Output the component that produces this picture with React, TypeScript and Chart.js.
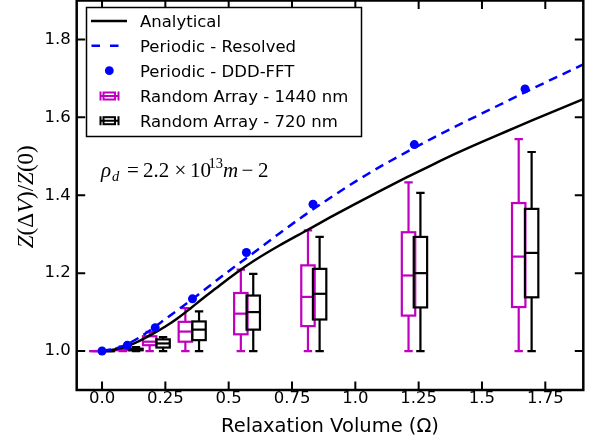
import React, { useEffect, useRef } from "react";
import { Chart, registerables } from "chart.js";
Chart.register(...registerables);

// ---- tick labels ----
const xTickValues = [0, 0.25, 0.5, 0.75, 1.0, 1.25, 1.5, 1.75];
const xTickLabels = ["0.0", "0.25", "0.5", "0.75", "1.0", "1.25", "1.5", "1.75"];
const yTickValues = [1.0, 1.2, 1.4, 1.6, 1.8];
const yTickLabels = ["1.0", "1.2", "1.4", "1.6", "1.8"];

// ---- Analytical (solid black) ----
const analyticalX = [0, 0.05, 0.1, 0.15, 0.2, 0.25, 0.3, 0.35, 0.4, 0.45, 0.5, 0.55, 0.6, 0.7, 0.8, 0.9, 1.0, 1.1, 1.2, 1.3, 1.4, 1.5, 1.6, 1.7, 1.8, 1.9];
const analyticalY = [1.0, 1.004, 1.013, 1.027, 1.044, 1.063, 1.085, 1.11, 1.136, 1.161, 1.186, 1.21, 1.232, 1.271, 1.307, 1.343, 1.378, 1.412, 1.445, 1.477, 1.508, 1.537, 1.565, 1.593, 1.62, 1.647];

// ---- Periodic - Resolved (dashed blue) ----
const resolvedX = [0, 0.05, 0.1, 0.15, 0.2, 0.25, 0.3, 0.35, 0.4, 0.5, 0.6, 0.7, 0.8, 0.9, 1.0, 1.1, 1.2, 1.3, 1.4, 1.5, 1.6, 1.7, 1.8, 1.9];
const resolvedY = [1.0, 1.006, 1.018, 1.036, 1.058, 1.082, 1.106, 1.13, 1.155, 1.205, 1.253, 1.302, 1.349, 1.393, 1.435, 1.474, 1.51, 1.545, 1.578, 1.61, 1.642, 1.674, 1.705, 1.736];

// ---- Periodic - DDD-FFT (blue dots) ----
const fftX = [0, 0.1, 0.21, 0.357, 0.57, 0.833, 1.233, 1.67];
const fftY = [1.0, 1.015, 1.06, 1.134, 1.253, 1.377, 1.53, 1.673];

// ---- Random Array - 1440 nm (magenta boxes) ----
const r1440Pos = [-0.024, 0.082, 0.188, 0.329, 0.548, 0.813, 1.21, 1.645];
const r1440Min = [1.0, 1.0, 1.0, 1.0, 1.0, 1.0, 1.0, 1.0];
const r1440Q1 = [1.0, 1.002, 1.015, 1.024, 1.043, 1.064, 1.091, 1.113];
const r1440Med = [1.0, 1.004, 1.024, 1.05, 1.096, 1.139, 1.194, 1.2425];
const r1440Q3 = [1.0, 1.007, 1.038, 1.075, 1.149, 1.22, 1.305, 1.38];
const r1440Max = [1.0, 1.012, 1.049, 1.11, 1.209, 1.31, 1.433, 1.544];

// ---- Random Array - 720 nm (black boxes) ----
const r720Pos = [0.025, 0.134, 0.241, 0.383, 0.597, 0.859, 1.257, 1.696];
const r720Min = [1.0, 1.0, 1.0, 1.0, 1.0, 1.0, 1.0, 1.0];
const r720Q1 = [1.0, 1.002, 1.009, 1.028, 1.055, 1.081, 1.112, 1.138];
const r720Med = [1.0, 1.004, 1.0195, 1.055, 1.1, 1.147, 1.2, 1.252];
const r720Q3 = [1.0, 1.006, 1.03, 1.076, 1.1425, 1.211, 1.293, 1.365];
const r720Max = [1.0, 1.01, 1.036, 1.102, 1.198, 1.293, 1.406, 1.511];

const legendLabels = ["Analytical", "Periodic - Resolved", "Periodic - DDD-FFT", "Random Array - 1440 nm", "Random Array - 720 nm"];

const MAGENTA = "#bf00bf";
const BLUE = "#0000ff";
const BLACK = "#000000";
const SANS = "'DejaVu Sans', sans-serif";
const SERIF = "'Liberation Serif', serif";

const pts = (xs: number[], ys: number[]) => xs.map((x, i) => ({ x, y: ys[i] }));

function drawBoxes(chart: any, pos: number[], mn: number[], q1: number[], md: number[], q3: number[], mx: number[], color: string) {
  const { ctx, scales } = chart;
  const xs = scales.x, ys = scales.y;
  const hw = 6.7, cap = 4.2;
  ctx.save();
  ctx.strokeStyle = color;
  ctx.lineWidth = 2.2;
  ctx.lineCap = "butt";
  pos.forEach((p: number, i: number) => {
    const cx = xs.getPixelForValue(p);
    const yMin = ys.getPixelForValue(mn[i]);
    const yQ1 = ys.getPixelForValue(q1[i]);
    const yMed = ys.getPixelForValue(md[i]);
    const yQ3 = ys.getPixelForValue(q3[i]);
    const yMax = ys.getPixelForValue(mx[i]);
    ctx.beginPath();
    ctx.moveTo(cx, yQ1); ctx.lineTo(cx, yMin);
    ctx.moveTo(cx, yQ3); ctx.lineTo(cx, yMax);
    ctx.moveTo(cx - cap, yMin); ctx.lineTo(cx + cap, yMin);
    ctx.moveTo(cx - cap, yMax); ctx.lineTo(cx + cap, yMax);
    ctx.stroke();
    ctx.strokeRect(cx - hw, yQ3, hw * 2, yQ1 - yQ3);
    ctx.beginPath();
    ctx.moveTo(cx - hw, yMed); ctx.lineTo(cx + hw, yMed);
    ctx.stroke();
  });
  ctx.restore();
}

const boxPlugin = {
  id: "boxes",
  beforeDatasetsDraw(chart: any) {
    drawBoxes(chart, r1440Pos, r1440Min, r1440Q1, r1440Med, r1440Q3, r1440Max, MAGENTA);
    drawBoxes(chart, r720Pos, r720Min, r720Q1, r720Med, r720Q3, r720Max, BLACK);
  },
};

function drawSegs(ctx: CanvasRenderingContext2D, segs: { t: string; f: string; dx: number; dy?: number }[], x0: number, y0: number) {
  segs.forEach((s) => {
    ctx.font = s.f;
    ctx.fillText(s.t, x0 + s.dx, y0 + (s.dy || 0));
  });
}

const framePlugin = {
  id: "frame",
  afterDraw(chart: any) {
    const { ctx, chartArea: a, scales } = chart;
    const xs = scales.x, ys = scales.y;
    ctx.save();
    ctx.strokeStyle = BLACK;
    ctx.lineWidth = 2.5;
    ctx.strokeRect(a.left, a.top, a.right - a.left, a.bottom - a.top);
    ctx.lineWidth = 2;
    const tl = 8.5;
    ctx.beginPath();
    xTickValues.forEach((v) => {
      const px = xs.getPixelForValue(v);
      ctx.moveTo(px, a.bottom); ctx.lineTo(px, a.bottom - tl);
      ctx.moveTo(px, a.top); ctx.lineTo(px, a.top + tl);
    });
    yTickValues.forEach((v) => {
      const py = ys.getPixelForValue(v);
      ctx.moveTo(a.left, py); ctx.lineTo(a.left + tl, py);
      ctx.moveTo(a.right, py); ctx.lineTo(a.right - tl, py);
    });
    ctx.stroke();

    // y-axis title (rotated, math style)
    ctx.fillStyle = BLACK;
    ctx.textBaseline = "alphabetic";
    ctx.textAlign = "left";
    const fs = 23;
    const it = `italic ${fs}px ${SERIF}`;
    const rm = `${fs}px ${SERIF}`;
    const yTitle = [
      { t: "Z", f: it }, { t: "(Δ", f: rm }, { t: "V", f: it }, { t: ")/", f: rm },
      { t: "Z", f: it }, { t: "(0)", f: rm },
    ];
    let total = 0;
    const widths = yTitle.map((s) => { ctx.font = s.f; const w = ctx.measureText(s.t).width; total += w; return w; });
    ctx.save();
    ctx.translate(32.5, (a.top + a.bottom) / 2 + 1.5);
    ctx.rotate(-Math.PI / 2);
    let xx = -total / 2;
    yTitle.forEach((s, i) => { ctx.font = s.f; ctx.fillText(s.t, xx, 0); xx += widths[i]; });
    ctx.restore();

    // annotation rho_d
    const ax = xs.getPixelForValue(0);
    const ay = ys.getPixelForValue(1.447);
    const af = 21;
    const ait = `italic ${af}px ${SERIF}`;
    const arm = `${af}px ${SERIF}`;
    const asm = `14.5px ${SERIF}`;
    const asmi = `italic 14.5px ${SERIF}`;
    drawSegs(ctx, [
      { t: "ρ", f: ait, dx: -1 },
      { t: "d", f: asmi, dx: 10, dy: 4 },
      { t: "=", f: arm, dx: 25 },
      { t: "2.2", f: arm, dx: 41 },
      { t: "×", f: arm, dx: 72.5 },
      { t: "10", f: arm, dx: 88 },
      { t: "13", f: asm, dx: 106.5, dy: -8.5 },
      { t: "m", f: ait, dx: 121 },
      { t: "−", f: arm, dx: 139.5 },
      { t: "2", f: arm, dx: 156 },
    ], ax, ay);

    // legend
    const L = 86, R = 362, T = 11, B = 141;
    ctx.fillStyle = "#ffffff";
    ctx.fillRect(L, T, R - L, B - T);
    ctx.strokeStyle = BLACK;
    ctx.lineWidth = 1.5;
    ctx.strokeRect(L + 0.5, T + 0.5, R - L - 1, B - T - 1);
    const rows = [25, 49.7, 74.7, 100, 124.7];
    ctx.font = `16.5px ${SANS}`;
    ctx.fillStyle = BLACK;
    legendLabels.forEach((lab, i) => ctx.fillText(lab, 140, rows[i] + 6));
    ctx.lineWidth = 2.5;
    ctx.strokeStyle = BLACK;
    ctx.beginPath(); ctx.moveTo(91, rows[0]); ctx.lineTo(127, rows[0]); ctx.stroke();
    ctx.strokeStyle = BLUE;
    ctx.setLineDash([8.5, 10]);
    ctx.beginPath(); ctx.moveTo(91.5, rows[1]); ctx.lineTo(127, rows[1]); ctx.stroke();
    ctx.setLineDash([]);
    ctx.fillStyle = BLUE;
    ctx.beginPath(); ctx.arc(109.3, rows[2], 4.4, 0, Math.PI * 2); ctx.fill();
    const icon = (cy: number, color: string) => {
      ctx.strokeStyle = color;
      ctx.lineWidth = 2;
      ctx.beginPath();
      ctx.moveTo(100.5, cy); ctx.lineTo(118.5, cy);
      ctx.moveTo(100.5, cy - 4.5); ctx.lineTo(100.5, cy + 4.5);
      ctx.moveTo(118.5, cy - 4.5); ctx.lineTo(118.5, cy + 4.5);
      ctx.stroke();
      ctx.strokeRect(103.5, cy - 3.5, 11.5, 7);
    };
    icon(rows[3], MAGENTA);
    icon(rows[4], BLACK);
    ctx.restore();
  },
};

export default function App() {
  const ref = useRef<HTMLCanvasElement>(null);
  useEffect(() => {
    const canvas = ref.current!;
    const chart = new Chart(canvas, {
      type: "scatter",
      data: {
        datasets: [
          {
            label: "Periodic - DDD-FFT",
            data: pts(fftX, fftY),
            showLine: false,
            pointRadius: 4.5,
            pointBackgroundColor: BLUE,
            pointBorderColor: BLUE,
            pointBorderWidth: 0,
          },
          {
            label: "Periodic - Resolved",
            data: pts(resolvedX, resolvedY),
            showLine: true,
            pointRadius: 0,
            borderColor: BLUE,
            borderWidth: 2.5,
            borderDash: [9, 6],
            cubicInterpolationMode: "monotone",
          },
          {
            label: "Analytical",
            data: pts(analyticalX, analyticalY),
            showLine: true,
            pointRadius: 0,
            borderColor: BLACK,
            borderWidth: 2.5,
            cubicInterpolationMode: "monotone",
          },
        ],
      },
      options: {
        animation: false,
        responsive: false,
        devicePixelRatio: 1,
        layout: { padding: { left: 0, right: 9.7, top: 1, bottom: 0 } },
        plugins: { legend: { display: false }, tooltip: { enabled: false } },
        scales: {
          x: {
            type: "linear",
            min: -0.1,
            max: 1.9,
            grid: { display: false, drawTicks: false },
            border: { display: false },
            afterFit: (s: any) => { s.height = 54; s.paddingLeft = 0; s.paddingRight = 0; },
            afterBuildTicks: (s: any) => { s.ticks = xTickValues.map((v) => ({ value: v })); },
            ticks: {
              autoSkip: false,
              maxRotation: 0,
              padding: -1,
              color: BLACK,
              font: { family: SANS, size: 16.5 },
              callback: (v: any) => xTickLabels[xTickValues.findIndex((t) => Math.abs(t - v) < 1e-6)],
            },
            title: {
              display: true,
              text: "Relaxation Volume (Ω)",
              color: BLACK,
              font: { family: SANS, size: 19.5 },
              padding: { top: 0, bottom: 5 },
            },
          },
          y: {
            type: "linear",
            min: 0.9,
            max: 1.9,
            grid: { display: false, drawTicks: false },
            border: { display: false },
            afterFit: (s: any) => { s.width = 76.7; s.paddingTop = 0; s.paddingBottom = 0; },
            afterBuildTicks: (s: any) => { s.ticks = yTickValues.map((v) => ({ value: v })); },
            ticks: {
              autoSkip: false,
              padding: 6,
              color: BLACK,
              font: { family: SANS, size: 16.5 },
              callback: (v: any) => yTickLabels[yTickValues.findIndex((t) => Math.abs(t - v) < 1e-6)],
            },
          },
        },
      },
      plugins: [boxPlugin, framePlugin],
    } as any);
    return () => chart.destroy();
  }, []);
  return (
    <div style={{ position: "fixed", left: 0, top: -4, width: 593, height: 448, background: "#fff" }}>
      <canvas ref={ref} width={593} height={448} style={{ width: 593, height: 448, display: "block" }} />
    </div>
  );
}
